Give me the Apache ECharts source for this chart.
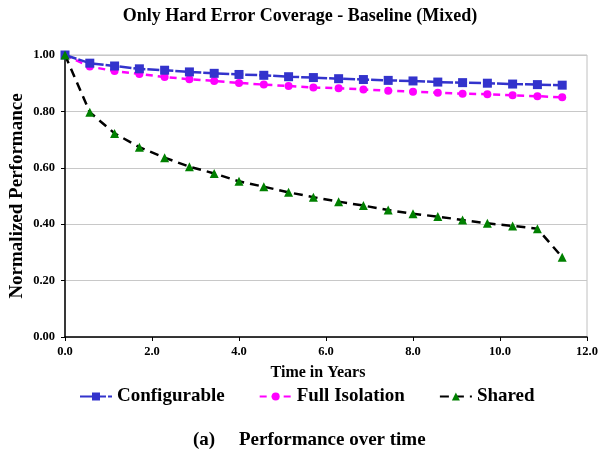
<!DOCTYPE html>
<html>
<head>
<meta charset="utf-8">
<script src="https://cdn.jsdelivr.net/npm/echarts@6/dist/echarts.min.js"></script>
<style>
html,body{margin:0;padding:0;background:#fff;}
#chart{width:600px;height:455px;}
</style>
</head>
<body>
<div id="chart"></div>
<script>
var years = [0, 0.57, 1.14, 1.71, 2.29, 2.86, 3.43, 4.0, 4.57, 5.14, 5.71, 6.29, 6.86, 7.43, 8.0, 8.57, 9.14, 9.71, 10.29, 10.86, 11.43];
var configurable = [1.00, 0.971, 0.961, 0.951, 0.946, 0.940, 0.935, 0.931, 0.928, 0.923, 0.920, 0.916, 0.913, 0.910, 0.908, 0.904, 0.902, 0.900, 0.897, 0.895, 0.893];
var fullIsolation = [1.00, 0.959, 0.943, 0.933, 0.922, 0.914, 0.908, 0.901, 0.895, 0.890, 0.885, 0.882, 0.878, 0.873, 0.870, 0.866, 0.863, 0.861, 0.857, 0.854, 0.850];
var shared = [1.00, 0.797, 0.722, 0.673, 0.636, 0.604, 0.580, 0.552, 0.533, 0.513, 0.496, 0.480, 0.466, 0.450, 0.437, 0.427, 0.415, 0.403, 0.394, 0.384, 0.283];
var seriesNames = ['Configurable', 'Full Isolation', 'Shared'];
var titleText = 'Only Hard Error Coverage - Baseline (Mixed)';
var captionText = '(a)     Performance over time';
var xAxisName = 'Time in Years';
var yAxisName = 'Normalized Performance';

function pairs(xs, ys) {
  return xs.map(function (x, i) { return [x, ys[i]]; });
}

var serif = 'Liberation Serif';
var chart = echarts.init(document.getElementById('chart'), null, {renderer: 'canvas'});
chart.setOption({
  animation: false,
  backgroundColor: '#ffffff',
  textStyle: {fontFamily: serif},
  title: [{
    text: titleText,
    left: 'center',
    top: 7,
    padding: 0,
    textStyle: {fontFamily: serif, fontWeight: 'bold', fontSize: 18, color: '#000'}
  }, {
    text: captionText,
    left: 193,
    top: 431,
    padding: 0,
    textStyle: {fontFamily: serif, fontWeight: 'bold', fontSize: 19, color: '#000'}
  }],
  grid: {
    left: 65, right: 13, top: 55, bottom: 118,
    containLabel: false,
    outerBoundsMode: 'none',
    show: true, borderColor: '#c0c0c0', borderWidth: 1, backgroundColor: 'transparent'
  },
  legend: {
    top: 387,
    left: 79,
    padding: 0,
    itemGap: 34,
    itemWidth: 32,
    itemHeight: 10,
    data: seriesNames,
    formatter: '{t|{name}}',
    textStyle: {
      fontFamily: serif, fontWeight: 'bold', fontSize: 19, color: '#000',
      rich: {t: {fontFamily: serif, fontWeight: 'bold', fontSize: 19, color: '#000'}}
    }
  },
  xAxis: {
    type: 'value',
    min: 0, max: 12, interval: 2,
    name: xAxisName,
    nameLocation: 'middle',
    nameGap: 28,
    nameTextStyle: {fontFamily: serif, fontWeight: 'bold', fontSize: 16, color: '#000', padding: [0, 16, 0, 0]},
    axisLine: {show: true, onZero: false, lineStyle: {color: '#000', width: 1.5}},
    axisTick: {show: true, length: 4, lineStyle: {color: '#000'}},
    splitLine: {show: false},
    axisLabel: {
      fontFamily: serif, fontWeight: 'bold', fontSize: 12.5, color: '#000', margin: 8,
      formatter: function (v) { return v.toFixed(1); }
    }
  },
  yAxis: {
    type: 'value',
    min: 0, max: 1, interval: 0.2,
    name: yAxisName,
    nameLocation: 'middle',
    nameGap: 38,
    nameMoveOverlap: false,
    nameTextStyle: {fontFamily: serif, fontWeight: 'bold', fontSize: 19, color: '#000'},
    axisLine: {show: true, lineStyle: {color: '#000', width: 1.5}},
    axisTick: {show: true, length: 4, lineStyle: {color: '#000'}},
    splitLine: {show: true, lineStyle: {color: '#c8c8c8', width: 1}},
    axisLabel: {
      fontFamily: serif, fontWeight: 'bold', fontSize: 12.5, color: '#000', margin: 10,
      formatter: function (v) { return v.toFixed(2); }
    }
  },
  series: [{
    name: seriesNames[0],
    type: 'line',
    data: pairs(years, configurable),
    symbol: 'rect',
    symbolSize: 9,
    itemStyle: {color: '#3333CC'},
    lineStyle: {color: '#3333CC', width: 2.5, type: [12, 2]},
    z: 3
  }, {
    name: seriesNames[1],
    type: 'line',
    data: pairs(years, fullIsolation),
    symbol: 'circle',
    symbolSize: 8,
    itemStyle: {color: '#FF00FF'},
    lineStyle: {color: '#FF00FF', width: 2.5, type: [7, 5]},
    z: 2
  }, {
    name: seriesNames[2],
    type: 'line',
    data: pairs(years, shared),
    symbol: 'triangle',
    symbolSize: 9,
    itemStyle: {color: '#008000'},
    lineStyle: {color: '#000000', width: 2.5, type: [9, 6]},
    z: 4
  }]
});
</script>
</body>
</html>
